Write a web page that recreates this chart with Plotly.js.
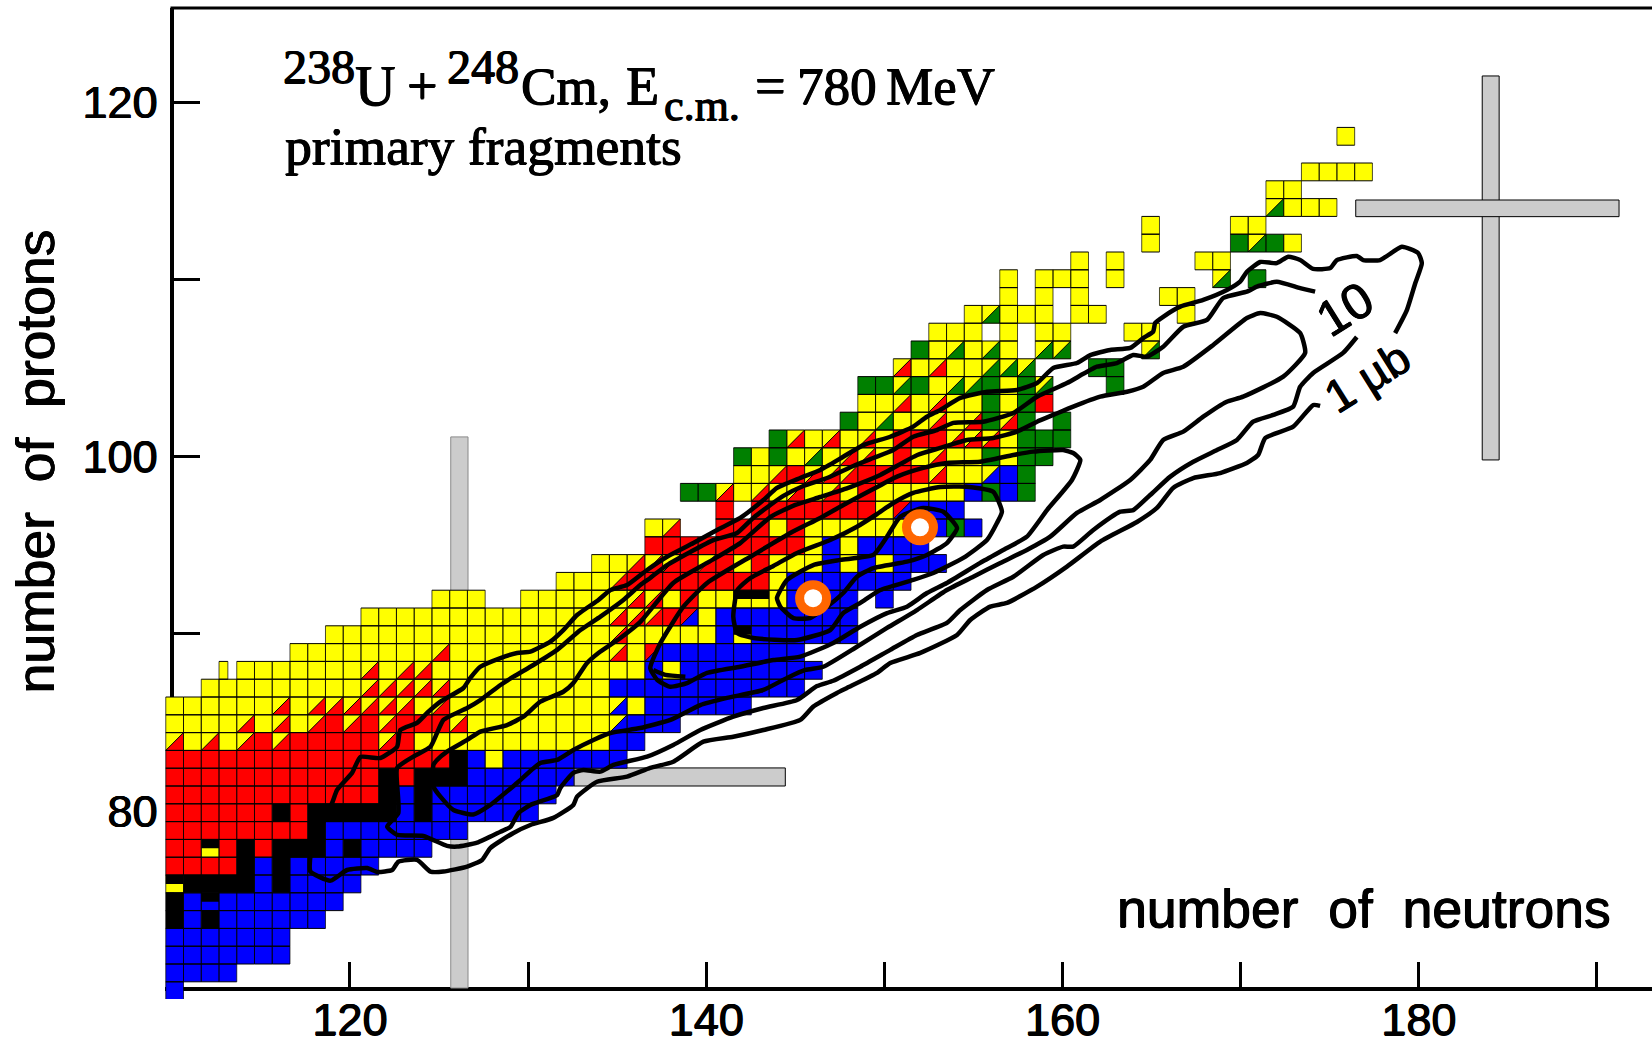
<!DOCTYPE html>
<html>
<head>
<meta charset="utf-8">
<script src="https://cdn.plot.ly/plotly-3.0.1.min.js"></script>
<style>html,body{margin:0;padding:0;background:#fff}#chart{width:1652px;height:1041px}</style>
</head>
<body>
<div id="chart"></div>
<script>
// Cell rows: proton number, first neutron number, one code per neutron number.
// Y R B G K solid; r g b = yellow with red/green/blue lower triangle; x = red with blue triangle;
// H / J = black upper half over yellow / blue; w = yellow left half; . = empty
const rowProton = [70,71,72,73,74,75,76,77,78,79,80,81,82,83,84,85,86,87,88,89,90,91,92,93,94,95,96,97,98,99,100,101,102,103,104,105,106,107,108,109,110,111,112,113,114,115,116,118];
const rowFirstNeutron = [110,110,110,110,110,110,110,110,110,110,110,110,110,110,110,110,110,112,113,117,119,121,125,132,134,137,137,141,139,142,142,144,148,149,149,151,152,153,155,157,157,161,165,165,172,172,174,176];
const rowCells = [
"B","BBBB","BBBBBBB","BBBBBBB","KBKBBBBBB","KBJBBBBBBB","HKKKKBKBBBB","RRRRKBKBBBBB","RRHRKRKKKBKBBBB",
"RRRRRRRRKBBBBBBBB","RRRRRRKRKKKKKBKBBBBBB","RRRRRRRRRRRRKBKBBBBBBB","RRRRRRRRRRRRKRKKKBBBBBB",
"RRRRRRRRRRRRRRRRKBYBBBBBBB","rYrYrRrRRRRRrRYYYYYYYYYYYBB","YYYYrYrYrRrRrRRRrYYYYYYYYbBBB",
"YYYYYYrYrrrrrrYrYYYYYYYYYbYBBBBBB","YYYYYYYYYrrrrrYYYYYYYYYBBBBBBBBBBB","wYYYYYYYrYrrYYYYYYYYYYYYBYBBBBBBBB",
"YYYYYYYYrYYYYYYYYYrYxBBBBBBBB","YYYYYYYYYYYYYYYYrYYYYYBHBBBBBB","YYYYYYYYYYYYYYrrrRxYBBBBBBBB",
"YYY..YYYYYYrrYRYYHHYBBBB.B","YYYrRRRRRRRRYBBBBBBB","YYrrrRrRYRYYYBYBYBBB","RRRRRRRRRYBYBBBB","Yr..RRRYRYYYYYYBBGB",
"R.RRRRRRRYxBBB","GGrYrYrYrYRYYYYYBGBG","YYrRrrrRRRRrYYbBG","GYGYgYrrYRYrYYGYGG","GrYrYrYRRRrrrYGGG",
"GYgYYrYrGrG.G","YYrYrYYGYGR","GGgGYggGYGg...G","rYrYYggg...GG","GYgYgY.gg....g","YYY.Y.YY...YY","YgYYY.YY....Y",
"Y.Y.Y....YY","Y.YYY.Y.....g.G","Y.Y....YY","Y....GgGY","Y....YY","gYYY","YY","YYYY","Y"];

// Magic-number bars
const barNeutronFrom = [125.66,132.58,183.56,176.46];
const barNeutronTo   = [126.63,144.44,184.51,191.24];
const barProtonFrom  = [70,81.40,99.80,113.53];
const barProtonTo    = [101.10,82.42,121.47,114.47];

// Markers
const markerNeutron = [146,152];
const markerProton = [92,96];

// Contours (neutrons, protons)
const contour1N = [178.67,179.33,179.80,180.17,179.96,179.05,177.83,176.88,176.52,175.40,175.03,174.07,173.34,172.67,172.03,171.10,170.35,169.97,169.23,167.90,166.61,165.65,165.20,165.09,164.53,163.80,162.68,161.56,160.81,159.48,158.57,157.44,155.76,154.26,153.14,152.39,151.62,150.33,148.82,147.69,146.40,145.28,143.97,143.21,141.91,140.61,139.28,137.80,136.68,135.56,134.62,133.95,132.75,131.98,131.25,130.13,129.38,128.45,127.32,126.76,126.37,125.08,124.33,123.77,122.83,122.65,121.71,120.59,120.12,119.28,119.00,118.23,117.78,117.78,118.91,119.84,120.97,121.53,122.37,122.72,123.77,124.52,125.25,126.58,127.42,127.88,129.18,130.13,131.42,132.54,132.75,133.87,135.56,136.86,138.15,139.84,141.52,143.21,145.28,146.01,147.34,147.90,149.59,150.33,152.02,154.08,154.82,155.94,156.88,158.57,160.25,162.12,164.18,165.30,166.21,167.34,168.85,170.35,170.98,171.38,172.95,174.07,174.46];
const contour1Z = [106.96,108.26,109.77,110.90,111.48,111.83,111.08,111.08,111.31,111.08,110.63,110.58,111.08,111.27,110.91,110.97,110.42,109.86,109.39,108.83,108.45,107.88,107.53,107.04,106.68,106.12,106.01,105.72,105.27,104.99,104.14,103.75,103.65,103.30,102.62,102.24,101.68,101.11,100.64,99.98,99.23,98.78,98.22,97.54,96.53,95.85,95.11,94.34,93.59,92.74,92.46,91.90,91.05,90.20,89.55,88.98,88.91,88.62,88.13,87.50,86.93,86.16,85.52,84.96,84.56,83.62,82.98,83.04,82.14,81.18,80.44,78.92,77.41,76.57,76.06,76.66,76.77,76.55,76.66,77.13,77.23,76.57,76.57,76.85,77.23,77.90,78.75,79.20,79.60,80.33,80.80,81.64,81.93,82.42,82.77,83.90,84.18,84.56,85.13,85.88,86.65,86.93,87.78,88.34,88.91,89.92,90.77,91.52,91.73,92.65,93.78,95.19,96.30,97.09,98.22,98.78,99.06,99.63,100.08,101.04,101.68,102.90,102.85];
const contour10N = [174.18,173.34,172.03,170.91,170.35,169.02,168.11,166.78,165.65,164.74,163.97,163.05,161.93,160.25,158.57,157.24,155.55,153.87,152.95,151.62,150.50,149.38,148.26,146.78,145.45,144.33,143.60,142.64,141.73,140.40,139.11,137.80,136.86,136.30,135.35,134.06,132.94,131.63,130.30,129.18,128.45,127.32,126.58,125.25,124.89,124.52,123.56,122.65,122.72,122.09,122.65,124.12,125.45,126.02,127.14,128.45,129.01,129.46,130.13,131.63,131.81,132.54,133.10,134.06,134.79,136.68,138.15,139.67,141.52,143.21,145.10,146.22,147.13,148.65,150.33,151.83,153.51,154.26,155.76,157.24,158.92,160.04,160.60,161.73,163.24,163.97,164.92,166.05,167.34,168.67,169.79,170.70,171.83,172.95,173.34,174.07,175.75,176.52];
const contour10Z = [109.30,109.50,109.86,109.58,109.30,108.94,107.70,107.32,106.19,105.63,105.72,105.27,105.06,104.14,103.37,102.45,101.96,101.89,101.49,101.11,100.36,99.91,99.46,98.78,98.33,97.77,97.26,96.53,95.68,95.28,94.61,93.87,93.14,92.74,91.90,90.96,90.20,89.08,88.23,87.57,87.10,86.25,85.80,85.13,84.39,83.62,83.06,82.42,79.88,79.11,78.64,78.58,78.02,77.98,78.20,78.82,79.09,79.88,80.33,80.89,81.29,82.14,82.30,82.21,82.59,83.06,83.72,84.56,85.31,85.80,86.25,87.04,87.34,88.13,89.08,89.92,90.60,91.33,92.46,93.21,94.44,94.91,94.91,95.85,96.88,96.97,97.82,98.86,99.70,100.36,100.93,101.96,102.34,102.81,103.93,104.71,105.84,106.74];
const contourCN = [164.92,165.65,166.78,167.90,169.19,170.14,172.39,173.62,173.34,172.03,171.10,170.35,168.46,166.78,165.65,164.53,163.62,162.12,160.60,159.48,158.57,157.44,156.11,154.64,153.14,151.85,149.77,148.09,146.40,145.00,143.60,141.91,140.05,138.15,136.30,135.18,133.95,133.31,132.54,131.98,130.69,129.74,128.82,127.32,126.58,125.45,124.89,124.69,124.69,125.08,125.81,126.93,127.88,129.38,130.69,131.63,132.54,133.67,134.62,136.30,137.99,139.67,141.17,143.21,144.54,145.56,146.57,148.46,150.15,151.83,153.51,154.99,156.51,158.00,159.31,160.81,162.12,163.80,164.92];
const contourCZ = [99.80,100.93,101.40,102.24,103.07,103.37,104.50,105.84,106.96,107.88,108.09,107.81,106.29,105.06,104.71,103.93,103.65,103.37,102.81,102.34,101.96,101.40,101.04,100.93,100.48,100.08,98.95,98.27,97.71,97.26,96.58,95.11,93.99,92.86,90.66,89.75,88.91,88.34,87.21,86.72,86.16,85.31,84.84,84.47,84.00,83.34,82.87,82.59,81.36,80.80,80.05,79.79,80.33,81.57,82.70,82.87,83.43,84.00,84.39,84.67,85.13,85.97,86.37,86.82,87.50,87.95,88.13,89.26,90.32,91.33,92.46,93.21,93.99,94.72,95.47,96.81,97.54,98.67,99.80];
const contourJN = [161.00,160.60,160.04,158.36,157.24,155.38,153.51,152.18,150.71,149.38,147.90,146.40,144.72,142.48,140.05,138.72,137.43,136.86,137.26,137.99,138.92,140.05,141.91,143.77,145.28,147.13,148.65,150.15,151.27,152.39,153.51,155.38,156.88,158.00,159.13,160.53,161.00];
const contourJZ = [99.80,100.19,100.36,100.27,100.08,99.70,99.63,99.35,98.86,98.16,97.37,96.53,95.68,94.34,92.86,91.52,89.47,88.06,87.38,87.00,87.21,87.78,88.13,88.51,88.70,89.47,90.39,91.16,91.52,92.29,92.86,93.99,94.83,95.47,96.97,98.67,99.80];
const hookN = [137.03,137.71,138.83];
const hookZ = [87.95,87.67,87.57];
const contourKN = [156.60,156.11,154.64,153.14,151.62,150.50,149.59,148.46,146.96,145.10,143.77,142.48,141.75,141.52,141.73,142.64,145.10,146.96,147.69,148.65,149.77,151.62,152.75,154.43,155.76,156.32,156.60];
const contourKZ = [96.88,98.01,98.29,98.27,97.94,97.37,96.75,96.03,95.28,94.55,93.82,93.14,92.46,90.96,90.04,89.75,89.64,90.20,91.16,91.73,92.46,93.03,93.42,94.27,95.28,96.24,96.88];
const contourMN = [143.97,144.54,146.01,147.53,149.38,150.15,150.89,152.18,153.31,154.08,153.51,152.39,151.27,149.38,148.46,147.69,146.78,145.84,144.89,144.16,143.97];
const contourMZ = [92.01,93.03,93.87,94.16,94.44,95.47,96.60,97.09,96.88,95.96,95.11,94.44,94.06,93.70,93.21,92.29,91.52,90.88,90.88,91.52,92.01];

const xTickVals = [120,130,140,150,160,170,180,190];
const xTickText = ['120','','140','','160','','180',''];
const yTickVals = [80,90,100,110,120];
const yTickText = ['80','','100','','120'];

const SANS = 'Liberation Sans, Arial, sans-serif';
const SERIF = 'Liberation Serif, Times New Roman, serif';
const HEAVY = '0.7px 0 0 #000, -0.4px 0 0 #000, 0 0.5px 0 #000';
const COLORS = {Y:'#ffff00',R:'#ff0000',B:'#0000ff',G:'#008000',K:'#000000'};

// Cell lattice relative to the axes
const cellX0 = 109.663, cellW = 0.99607, cellTop86 = 86.422, cellH = 1.00451;
const cellLeft = n => cellX0 + (n-110)*cellW;
const cellTop = z => cellTop86 + (z-86)*cellH;

const polys = {bY:[[],[]],bR:[[],[]],bB:[[],[]],bG:[[],[]],bK:[[],[]],tR:[[],[]],tG:[[],[]],tB:[[],[]],hK:[[],[]]};
const horX = [], horY = [], verX = [], verY = [];
function addPoly(key, xs, ys){ xs.forEach(v=>polys[key][0].push(v)); ys.forEach(v=>polys[key][1].push(v)); polys[key][0].push(null); polys[key][1].push(null); }
function addFrame(x0,x1,y0,y1){
  horX.push(x0,x1,null,x0,x1,null); horY.push(y0,y0,null,y1,y1,null);
  verX.push(x0,x0,null,x1,x1,null); verY.push(y0,y1,null,y0,y1,null);
}
rowProton.forEach((z,i)=>{
  [...rowCells[i]].forEach((c,k)=>{
    if(c==='.') return;
    const n = rowFirstNeutron[i]+k;
    const x0=cellLeft(n), x1=cellLeft(n+1), y1=cellTop(z), y0=cellTop(z-1);
    const rect=[[x0,x1,x1,x0,x0],[y0,y0,y1,y1,y0]];
    const tri=[[x0,x1,x1,x0],[y0,y1,y0,y0]];
    const ym=(y0+y1)/2, xm=(x0+x1)/2;
    const upper=[[x0,x1,x1,x0,x0],[ym,ym,y1,y1,ym]];
    if('YRBGK'.includes(c)) addPoly('b'+c,rect[0],rect[1]);
    if('rgb'.includes(c)){ addPoly('bY',rect[0],rect[1]); addPoly('t'+c.toUpperCase(),tri[0],tri[1]); }
    if(c==='x'){ addPoly('bR',rect[0],rect[1]); addPoly('tB',tri[0],tri[1]); }
    if(c==='H'){ addPoly('bY',rect[0],rect[1]); addPoly('hK',upper[0],upper[1]); }
    if(c==='J'){ addPoly('bB',rect[0],rect[1]); addPoly('hK',upper[0],upper[1]); }
    if(c==='w'){ addPoly('bY',[x0,xm,xm,x0,x0],[y0,y0,y1,y1,y0]); addFrame(x0,xm,y0,y1); return; }
    addFrame(x0,x1,y0,y1);
    if('rgbx'.includes(c)){ horX.push(x0,x1,null); horY.push(y0,y1,null); }
  });
});

const traces = [];
const barEdge = ['#8a8a8a','#000000','#000000','#000000'];
barNeutronFrom.forEach((a,i)=>{
  const b=barNeutronTo[i], c=barProtonFrom[i], d=barProtonTo[i];
  traces.push({type:'scatter',mode:'lines',x:[a,b,b,a,a],y:[c,c,d,d,c],fill:'toself',fillcolor:'#cccccc',line:{color:barEdge[i],width:1},hoverinfo:'skip',showlegend:false});
});
[['bY','Y'],['bR','R'],['bB','B'],['bG','G'],['bK','K'],['tR','R'],['tG','G'],['tB','B'],['hK','K']].forEach(([key,col])=>{
  traces.push({type:'scatter',mode:'lines',x:polys[key][0],y:polys[key][1],fill:'toself',fillcolor:COLORS[col],line:{width:0,color:COLORS[col]},hoverinfo:'skip',showlegend:false});
});
traces.push({type:'scatter',mode:'lines',x:verX,y:verY,line:{color:'rgba(0,0,0,0.7)',width:1},hoverinfo:'skip',showlegend:false});
traces.push({type:'scatter',mode:'lines',x:horX,y:horY,line:{color:'#000000',width:1},hoverinfo:'skip',showlegend:false});
[[contour1N,contour1Z],[contour10N,contour10Z],[contourCN,contourCZ],[contourJN,contourJZ],[hookN,hookZ],[contourKN,contourKZ],[contourMN,contourMZ]].forEach(([x,y])=>{
  traces.push({type:'scatter',mode:'lines',x:x,y:y,line:{color:'#000000',width:4.5,shape:'spline',smoothing:0.5},hoverinfo:'skip',showlegend:false});
});
traces.push({type:'scatter',mode:'markers',x:markerNeutron,y:markerProton,marker:{symbol:'circle',size:27,color:'#ffffff',line:{color:'#ff6600',width:9}},hoverinfo:'skip',showlegend:false});

const W=1652,H=1041,ML=164.5,MT=8,MB=42;
const plotW=W-ML, plotH=H-MT-MB;
const px = v => (v-ML)/plotW;
const py = v => 1-(v-MT)/plotH;
function label(text,x,y,size,family,extra){
  return Object.assign({text:text,xref:'paper',yref:'paper',x:px(x),y:py(y),xanchor:'left',yanchor:'middle',showarrow:false,borderpad:0,font:{family:family,size:size,color:'#000',shadow:HEAVY}},extra||{});
}
const annotations=[
  label('238',282,66,48,SERIF),
  label('U',354,86,56,SERIF),
  label('+',406,86,54,SERIF),
  label('248',446,66,48,SERIF),
  label('Cm,',520,86,53,SERIF),
  label('E',625,86,54,SERIF),
  label('c.m.',663,106,44,SERIF),
  label('=',754,86,54,SERIF),
  label('780',796,86,53,SERIF),
  label('MeV',885,86,53,SERIF),
  label('primary fragments',284,146,53.5,SERIF),
  label('number\u00a0\u00a0of\u00a0\u00a0neutrons',1116,908,53.5,SANS),
  label('number\u00a0\u00a0of\u00a0\u00a0protons',34,462,53.5,SANS,{textangle:-90,xanchor:'center'}),
  label('10',1345,309,50,SANS,{textangle:-32,xanchor:'center'}),
  label('1\u00a0\u00b5b',1367,377,46,SANS,{textangle:-32,xanchor:'center'})
];

const layout={
  width:W,height:H,margin:{l:ML,r:0,t:MT,b:MB,pad:0},
  paper_bgcolor:'#ffffff',plot_bgcolor:'#ffffff',showlegend:false,
  xaxis:{range:[109.62,193.09],anchor:'free',position:0.01009,showgrid:false,zeroline:false,showline:true,linecolor:'#000',linewidth:4,
    layer:'below traces',ticks:'inside',ticklen:25,tickwidth:3,tickcolor:'#000',tickmode:'array',tickvals:xTickVals,ticktext:xTickText,
    ticklabelstandoff:-10,tickangle:0,tickfont:{family:SANS,size:45,color:'#000',shadow:HEAVY},fixedrange:true},
  yaxis:{range:[69.38,125.305],anchor:'free',position:0.00504,showgrid:false,zeroline:false,showline:true,linecolor:'#000',linewidth:4,
    layer:'below traces',ticks:'inside',ticklen:26,tickwidth:3,tickcolor:'#000',tickmode:'array',tickvals:yTickVals,ticktext:yTickText,
    ticklabelstandoff:4,tickfont:{family:SANS,size:45,color:'#000',shadow:HEAVY},fixedrange:true},
  shapes:[{type:'line',xref:'paper',yref:'paper',x0:px(170),x1:1,y0:py(8),y1:py(8),line:{color:'#000',width:3},layer:'below'}],
  annotations:annotations
};
Plotly.newPlot('chart',traces,layout,{displayModeBar:false,staticPlot:true});
</script>
</body>
</html>
